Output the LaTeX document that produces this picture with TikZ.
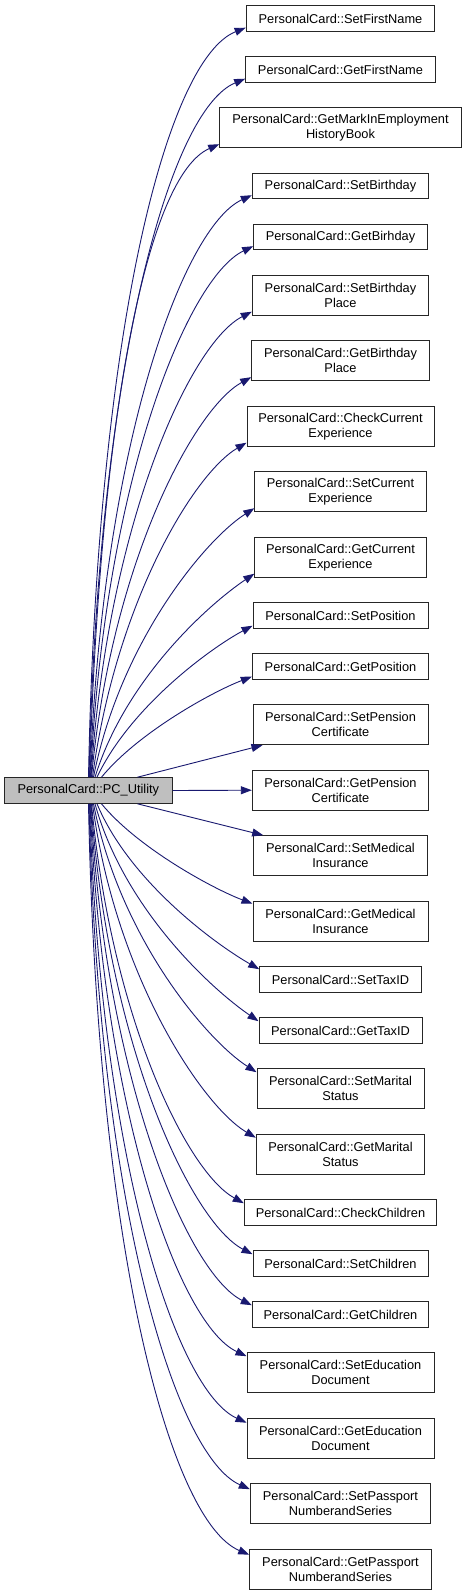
\documentclass[tikz,border=0pt]{standalone}
\usepackage{fontspec}
\setmainfont{Liberation Sans}
\usetikzlibrary{arrows.meta}
\definecolor{edgeblue}{HTML}{191970}
\definecolor{maingray}{HTML}{BFBFBF}
\newcommand{\upedge}[5]{%
  \pgfmathsetmacro{\edy}{778-#4}%
  \pgfmathsetmacro{\eff}{\edy/760}%
  \pgfmathsetmacro{\eax}{#2+8+35*(max(0.001,1-\eff))^1.5}%
  \pgfmathsetmacro{\eay}{778-(0.36+0.24*sqrt(\eff))*\edy}%
  \pgfmathsetmacro{\ebx}{#3-33-47*\eff}%
  \pgfmathsetmacro{\eby}{#4+min(0.15*\edy,32)}%
  \pgfmathsetmacro{\esx}{#2-4.7}%
  \draw[edge] ([xshift=\esx pt]main.north west) .. controls (\eax,\eay) and (\ebx,\eby) .. ([yshift=#5pt]#1.south west);%
}
\newcommand{\downedge}[5]{%
  \pgfmathsetmacro{\edy}{#4-803.3}%
  \pgfmathsetmacro{\eff}{\edy/760}%
  \pgfmathsetmacro{\eax}{#2+8+35*(max(0.001,1-\eff))^1.5}%
  \pgfmathsetmacro{\eay}{803.3+(0.36+0.24*sqrt(\eff))*\edy}%
  \pgfmathsetmacro{\ebx}{#3-33-47*\eff}%
  \pgfmathsetmacro{\eby}{#4-min(0.15*\edy,32)}%
  \pgfmathsetmacro{\esx}{#2-4.7}%
  \draw[edge] ([xshift=\esx pt]main.south west) .. controls (\eax,\eay) and (\ebx,\eby) .. ([yshift=-#5pt]#1.north west);%
}
\begin{document}
\begin{tikzpicture}[x=1pt,y=-1pt,
  every node/.style={font=\fontsize{12.8}{15}\selectfont},
  box/.style={draw=black!85,line width=1pt,fill=white,inner sep=1pt,align=center,minimum height=25.5pt},
  dbox/.style={box,minimum height=40pt},
  edge/.style={draw=edgeblue,line width=0.9pt,-{Triangle[length=11pt,width=8pt]}}]
\useasboundingbox[fill=white] (0,0) rectangle (467,1595);
\node[box,fill=maingray,minimum width=167.3pt,minimum height=25.6pt] (main) at (88.35,790.5) {PersonalCard::PC\_Utility};
\node[box,minimum width=188.7pt] (n1) at (340.5,18.45) {PersonalCard::SetFirstName};
\node[box,minimum width=189.6pt] (n2) at (340.5,69.45) {PersonalCard::GetFirstName};
\node[dbox,minimum width=241.6pt] (n3) at (340.5,127.7) {PersonalCard::GetMarkInEmployment\\HistoryBook};
\node[box,minimum width=176.4pt] (n4) at (340.5,185.95) {PersonalCard::SetBirthday};
\node[box,minimum width=173.6pt] (n5) at (340.5,236.95) {PersonalCard::GetBirhday};
\node[dbox,minimum width=176.4pt] (n6) at (340.5,295.2) {PersonalCard::SetBirthday\\Place};
\node[dbox,minimum width=177.6pt] (n7) at (340.5,360.7) {PersonalCard::GetBirthday\\Place};
\node[dbox,minimum width=187pt] (n8) at (340.5,426.2) {PersonalCard::CheckCurrent\\Experience};
\node[dbox,minimum width=171.3pt] (n9) at (340.5,491.7) {PersonalCard::SetCurrent\\Experience};
\node[dbox,minimum width=171.3pt] (n10) at (340.5,557.2) {PersonalCard::GetCurrent\\Experience};
\node[box,minimum width=175pt] (n11) at (340.5,615.45) {PersonalCard::SetPosition};
\node[box,minimum width=176.4pt] (n12) at (340.5,666.45) {PersonalCard::GetPosition};
\node[dbox,minimum width=175pt] (n13) at (340.5,724.7) {PersonalCard::SetPension\\Certificate};
\node[dbox,minimum width=176.4pt] (n14) at (340.5,790.2) {PersonalCard::GetPension\\Certificate};
\node[dbox,minimum width=173.6pt] (n15) at (340.5,855.7) {PersonalCard::SetMedical\\Insurance};
\node[dbox,minimum width=175pt] (n16) at (340.5,921.2) {PersonalCard::GetMedical\\Insurance};
\node[box,minimum width=161.6pt] (n17) at (340.5,979.45) {PersonalCard::SetTaxID};
\node[box,minimum width=163pt] (n18) at (340.5,1030.45) {PersonalCard::GetTaxID};
\node[dbox,minimum width=167pt] (n19) at (340.5,1088.7) {PersonalCard::SetMarital\\Status};
\node[dbox,minimum width=168.4pt] (n20) at (340.5,1154.2) {PersonalCard::GetMarital\\Status};
\node[box,minimum width=192.4pt] (n21) at (340.5,1212.45) {PersonalCard::CheckChildren};
\node[box,minimum width=175pt] (n22) at (340.5,1263.45) {PersonalCard::SetChildren};
\node[box,minimum width=176.4pt] (n23) at (340.5,1314.45) {PersonalCard::GetChildren};
\node[dbox,minimum width=187pt] (n24) at (340.5,1372.7) {PersonalCard::SetEducation\\Document};
\node[dbox,minimum width=187pt] (n25) at (340.5,1438.2) {PersonalCard::GetEducation\\Document};
\node[dbox,minimum width=180.4pt] (n26) at (340.5,1503.7) {PersonalCard::SetPassport\\NumberandSeries};
\node[dbox,minimum width=181.6pt] (n27) at (340.5,1569.2) {PersonalCard::GetPassport\\NumberandSeries};
% upper edges
\upedge{n1}{89}{246.2}{27.2}{4}
\upedge{n2}{89.5}{245.7}{78.2}{4}
\upedge{n3}{90}{219.7}{143.7}{4}
\upedge{n4}{90.5}{252.3}{194.7}{4}
\upedge{n5}{91}{253.7}{245.7}{4}
\upedge{n6}{91.5}{252.3}{311.2}{4}
\upedge{n7}{92}{251.7}{376.7}{4}
\upedge{n8}{93}{247}{442.2}{4}
\upedge{n9}{94}{254.9}{507.7}{4}
\upedge{n10}{95.5}{254.9}{573.2}{4}
\upedge{n11}{97.5}{253}{625.2}{3}
\upedge{n12}{102}{252.3}{676.2}{3}
\draw[edge] ([xshift=133.3pt]main.north west) -- ([xshift=10pt]n13.south west);
\draw[edge] (main.east) -- (n14.west);
\draw[edge] ([xshift=133.3pt]main.south west) -- ([xshift=10pt]n15.north west);
% lower edges
\downedge{n16}{102}{253}{904.2}{3}
\downedge{n17}{97.5}{259.7}{969.7}{3}
\downedge{n18}{95.5}{259}{1021.7}{4}
\downedge{n19}{94}{257}{1072.7}{4}
\downedge{n20}{93}{256.3}{1138.2}{4}
\downedge{n21}{92}{244.3}{1203.7}{4}
\downedge{n22}{91.5}{253}{1254.7}{4}
\downedge{n23}{91}{252.3}{1305.7}{4}
\downedge{n24}{90.5}{247}{1356.7}{4}
\downedge{n25}{90}{247}{1422.2}{5}
\downedge{n26}{89.5}{250.3}{1487.7}{6}
\downedge{n27}{89}{249.7}{1553.2}{6}
\end{tikzpicture}
\end{document}
